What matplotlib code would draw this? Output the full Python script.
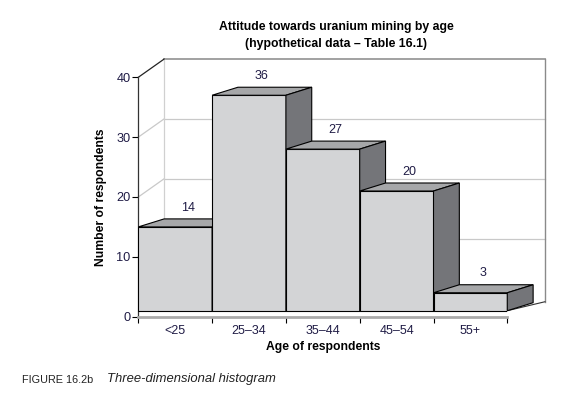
import matplotlib
matplotlib.use("Agg")
from matplotlib import pyplot as plt
from matplotlib.patches import Polygon

plt.rcParams['font.family'] = ['Liberation Sans', 'DejaVu Sans']

age_groups = ["<25", "25\u201334", "35\u201344", "45\u201354", "55+"]
respondents = [14, 36, 27, 20, 3]
y_ticks = [0, 10, 20, 30, 40]

# colours of the three visible faces of each bar
front_col = '#d3d4d6'
top_col = '#a6a7a9'
side_col = '#747579'
text_col = '#1f1b45'

# fake 3D geometry, in data units
base = 1.0            # floor thickness under the bars
bar_dx, bar_dy = 0.35, 1.34
wall_left, wall_right, wall_dy = 0.35, 5.51, 3.05
floor_back = 2.5

fig = plt.figure(figsize=(5.74, 3.97), dpi=100)
ax = fig.add_axes([138.3 / 574, 1 - 316.7 / 397, 369 / 574, 239.4 / 397])
ax.set_xlim(0, len(age_groups))
ax.set_ylim(0, 40)

# back wall
for g in y_ticks[1:-1]:
    ax.plot([wall_left, wall_right], [g + wall_dy, g + wall_dy], color='#c9c9c9', lw=0.9, zorder=1, clip_on=False)
    ax.plot([0, wall_left], [g, g + wall_dy], color='#c9c9c9', lw=0.9, zorder=1, clip_on=False)
ax.plot([wall_left, wall_right], [40 + wall_dy, 40 + wall_dy], color='#9a9a9a', lw=1.3, zorder=1, clip_on=False)
ax.plot([wall_right, wall_right], [floor_back, 40 + wall_dy], color='#8a8a8a', lw=1.0, zorder=1, clip_on=False)
ax.plot([wall_left, wall_left], [wall_dy, 40 + wall_dy], color='#d0d0d0', lw=0.9, zorder=1, clip_on=False)
ax.plot([0, wall_left], [40, 40 + wall_dy], color='#222222', lw=0.9, zorder=1, clip_on=False)

# floor edge on the right
n = len(age_groups)
ax.plot([n, wall_right], [base, floor_back], color='#333333', lw=0.8, zorder=1, clip_on=False)

# bars: front face from ax.bar, top and side as polygons
bars = ax.bar(range(n), respondents, width=1.0, bottom=base, align='edge',
              color=front_col, edgecolor='black', linewidth=0.8)
for i, (rect, v) in enumerate(zip(bars, respondents)):
    z = 3 + i
    rect.set_zorder(z)
    x0, x1 = i, i + 1
    yt = base + v
    top = Polygon([(x0, yt), (x1, yt), (x1 + bar_dx, yt + bar_dy), (x0 + bar_dx, yt + bar_dy)],
                  closed=True, facecolor=top_col, edgecolor='black', lw=0.8, zorder=z, clip_on=False)
    side = Polygon([(x1, base), (x1, yt), (x1 + bar_dx, yt + bar_dy), (x1 + bar_dx, base + bar_dy)],
                   closed=True, facecolor=side_col, edgecolor='black', lw=0.8, zorder=z, clip_on=False)
    ax.add_patch(top)
    ax.add_patch(side)
    ax.text(i + 0.5 + bar_dx / 2, yt + bar_dy + 1.9, str(v), ha='center', va='center',
            fontsize=9, color=text_col, zorder=20)

# axes
for s in ['top', 'right']:
    ax.spines[s].set_visible(False)
ax.spines['left'].set_color('#333333')
ax.spines['left'].set_linewidth(0.9)
ax.spines['bottom'].set_color('#aaaaaa')
ax.spines['bottom'].set_linewidth(2.0)

ax.set_yticks(y_ticks)
ax.tick_params(axis='y', length=4, width=0.8, pad=1.5, labelsize=9.2, labelcolor=text_col)
ax.set_xticks(range(n + 1))
ax.set_xticklabels([])
ax.set_xticks([i + 0.5 for i in range(n)], minor=True)
ax.set_xticklabels(age_groups, minor=True)
ax.tick_params(axis='x', which='major', length=4, width=0.8, direction='out')
ax.tick_params(axis='x', which='minor', length=0, pad=6, labelsize=9, labelcolor=text_col)

ax.set_xlabel('Age of respondents', fontsize=8.7, fontweight='bold')
ax.xaxis.set_label_coords(0.5, -0.127)
ax.xaxis.label.set_va('center')
ax.set_ylabel('Number of respondents', fontsize=8.7, fontweight='bold')
ax.yaxis.set_label_coords(-0.101, 0.5)
ax.yaxis.label.set_va('center')

fig.text(336 / 574, 1 - 27 / 397, 'Attitude towards uranium mining by age',
         ha='center', va='center', fontsize=8.8, fontweight='bold')
fig.text(336 / 574, 1 - 43.5 / 397, '(hypothetical data \u2013 Table 16.1)',
         ha='center', va='center', fontsize=8.8, fontweight='bold')

fig.text(22 / 574, 1 - 380 / 397, 'FIGURE 16.2b', ha='left', va='center', fontsize=7.8, color='#222222')
fig.text(107 / 574, 1 - 379 / 397, 'Three-dimensional histogram', ha='left', va='center',
         fontsize=9.4, style='italic', color='#222222')

plt.savefig('out.png', dpi=100)
